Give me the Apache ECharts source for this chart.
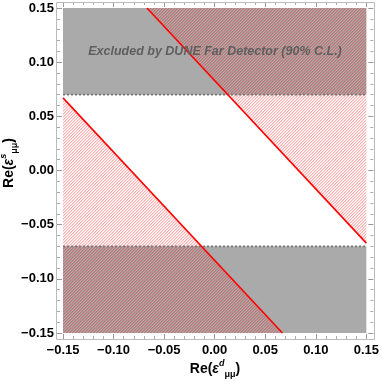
<!DOCTYPE html>
<html>
<head>
<meta charset="utf-8">
<script src="https://cdn.jsdelivr.net/npm/echarts@6/dist/echarts.min.js"></script>
<style>html,body{margin:0;padding:0;background:#fff;}#c{width:382px;height:382px;}</style>
</head>
<body>
<div id="c"></div>
<script>
// ---- data ----
const xLimits = [-0.15, 0.15];
const yLimits = [-0.15, 0.15];
const tickStep = 0.05;
const duneBounds = [-0.07, 0.07];              // excluded for |y| > 0.07
const upperLine = [[-0.067, 0.15], [0.15, -0.067]];
const lowerLine = [[-0.15, 0.067], [0.067, -0.15]];
const regionLabel = 'Excluded by DUNE Far Detector (90% C.L.)';

// ---- derived shapes ----
const grayBands = [[duneBounds[1], yLimits[1]], [yLimits[0], duneBounds[0]]];
const hatchPolys = [
  [upperLine[0], [xLimits[1], yLimits[1]], upperLine[1]],
  [lowerLine[0], [xLimits[0], yLimits[0]], lowerLine[1]]
];

function makeHatch() {
  const n = 3;
  const c = document.createElement('canvas');
  c.width = n; c.height = n;
  const g = c.getContext('2d');
  for (let i = 0; i < n; i++) {
    g.fillStyle = 'rgba(255,0,0,0.3)';
    g.fillRect(n - 1 - i, i, 1, 1);
    g.fillStyle = 'rgba(255,0,0,0.15)';
    g.fillRect((n - i) % n, i, 1, 1);
  }
  return c;
}
const hatch = { image: makeHatch(), repeat: 'repeat' };

const chart = echarts.init(document.getElementById('c'), null, { renderer: 'canvas' });
const fmt = v => (v < 0 ? '\u2212' : '') + Math.abs(v).toFixed(2);
const labelFont = { fontFamily: 'Liberation Sans, Arial, sans-serif', fontWeight: 'bold', fontSize: 13, color: '#000' };
const tickCommon = {
  type: 'value', min: xLimits[0], max: xLimits[1], interval: tickStep,
  axisLine: { show: false, onZero: false },
  axisTick: { show: true, inside: true, length: 5, lineStyle: { color: '#999', width: 1 } },
  minorTick: { show: true, splitNumber: 5, length: 3, lineStyle: { color: '#aaa', width: 1 } },
  splitLine: { show: false }
};
const richName = (sup) => ({
  text: '{a|Re(}{e|\u03b5}{sup|' + sup + '}{sub|\u03bc\u03bc}{a|)}',
  rich: {
    a: { fontFamily: 'Liberation Sans, Arial', fontWeight: 'bold', fontSize: 14, lineHeight: 20, fill: '#000' },
    e: { fontFamily: 'Liberation Sans, Arial', fontWeight: 'bold', fontStyle: 'italic', fontSize: 14, lineHeight: 20, fill: '#000' },
    sup: { fontFamily: 'Liberation Sans, Arial', fontWeight: 'bold', fontStyle: 'italic', fontSize: 9, lineHeight: 10, verticalAlign: 'top', fill: '#000' },
    sub: { fontFamily: 'Liberation Sans, Arial', fontWeight: 'bold', fontSize: 9, lineHeight: 10, verticalAlign: 'bottom', fill: '#000' }
  },
  align: 'center', verticalAlign: 'middle'
});

chart.setOption({
  animation: false,
  grid: { left: 63, top: 8, width: 305, height: 325, containLabel: false },
  xAxis: [
    Object.assign({}, tickCommon, { position: 'bottom', offset: 6,
      axisLabel: Object.assign({ margin: 5, formatter: fmt }, labelFont) }),
    Object.assign({}, tickCommon, { position: 'top', offset: 6, axisLabel: { show: false } })
  ],
  yAxis: [
    Object.assign({}, tickCommon, { min: yLimits[0], max: yLimits[1], position: 'left', offset: 6,
      axisLabel: Object.assign({ margin: 3, formatter: fmt }, labelFont) }),
    Object.assign({}, tickCommon, { min: yLimits[0], max: yLimits[1], position: 'right', offset: 7, axisLabel: { show: false } })
  ],
  series: [
    {
      type: 'custom', xAxisIndex: 0, yAxisIndex: 0,
      data: grayBands,
      renderItem: (params, api) => {
        const p1 = api.coord([xLimits[0], api.value(1)]);
        const p2 = api.coord([xLimits[1], api.value(0)]);
        return { type: 'rect', shape: { x: p1[0], y: p1[1], width: p2[0] - p1[0], height: p2[1] - p1[1] },
          style: { fill: '#aaaaaa' } };
      }
    },
    {
      type: 'custom', xAxisIndex: 0, yAxisIndex: 0,
      data: hatchPolys.map((p, i) => [i, i]),
      renderItem: (params, api) => {
        const pts = hatchPolys[params.dataIndex].map(p => api.coord(p));
        return { type: 'polygon', shape: { points: pts }, style: { fill: hatch } };
      }
    },
    ...duneBounds.map(y => ({
      type: 'line', symbol: 'none', silent: true,
      data: [[xLimits[0], y], [xLimits[1], y]],
      lineStyle: { color: '#777', width: 1.6, type: [2, 2] }
    })),
    ...[upperLine, lowerLine].map(l => ({
      type: 'line', symbol: 'none', silent: true,
      data: l,
      lineStyle: { color: '#ff0000', width: 1.6 }
    }))
  ],
  graphic: [
    { type: 'rect', shape: { x: 56.5, y: 2.5, width: 318, height: 337 }, style: { fill: 'none', stroke: '#bbb', lineWidth: 1 }, z: 100 },
    { type: 'text', x: 215, y: 52, z: 100,
      style: { text: regionLabel, fill: '#5f5f5f', font: 'italic bold 12.5px "Liberation Sans", Arial', align: 'center', verticalAlign: 'middle' } },
    Object.assign({ type: 'text', x: 215, y: 369, z: 100 }, { style: richName('d') }),
    Object.assign({ type: 'text', x: 9, y: 163, rotation: Math.PI / 2, z: 100 }, { style: richName('s') })
  ]
});
</script>
</body>
</html>
